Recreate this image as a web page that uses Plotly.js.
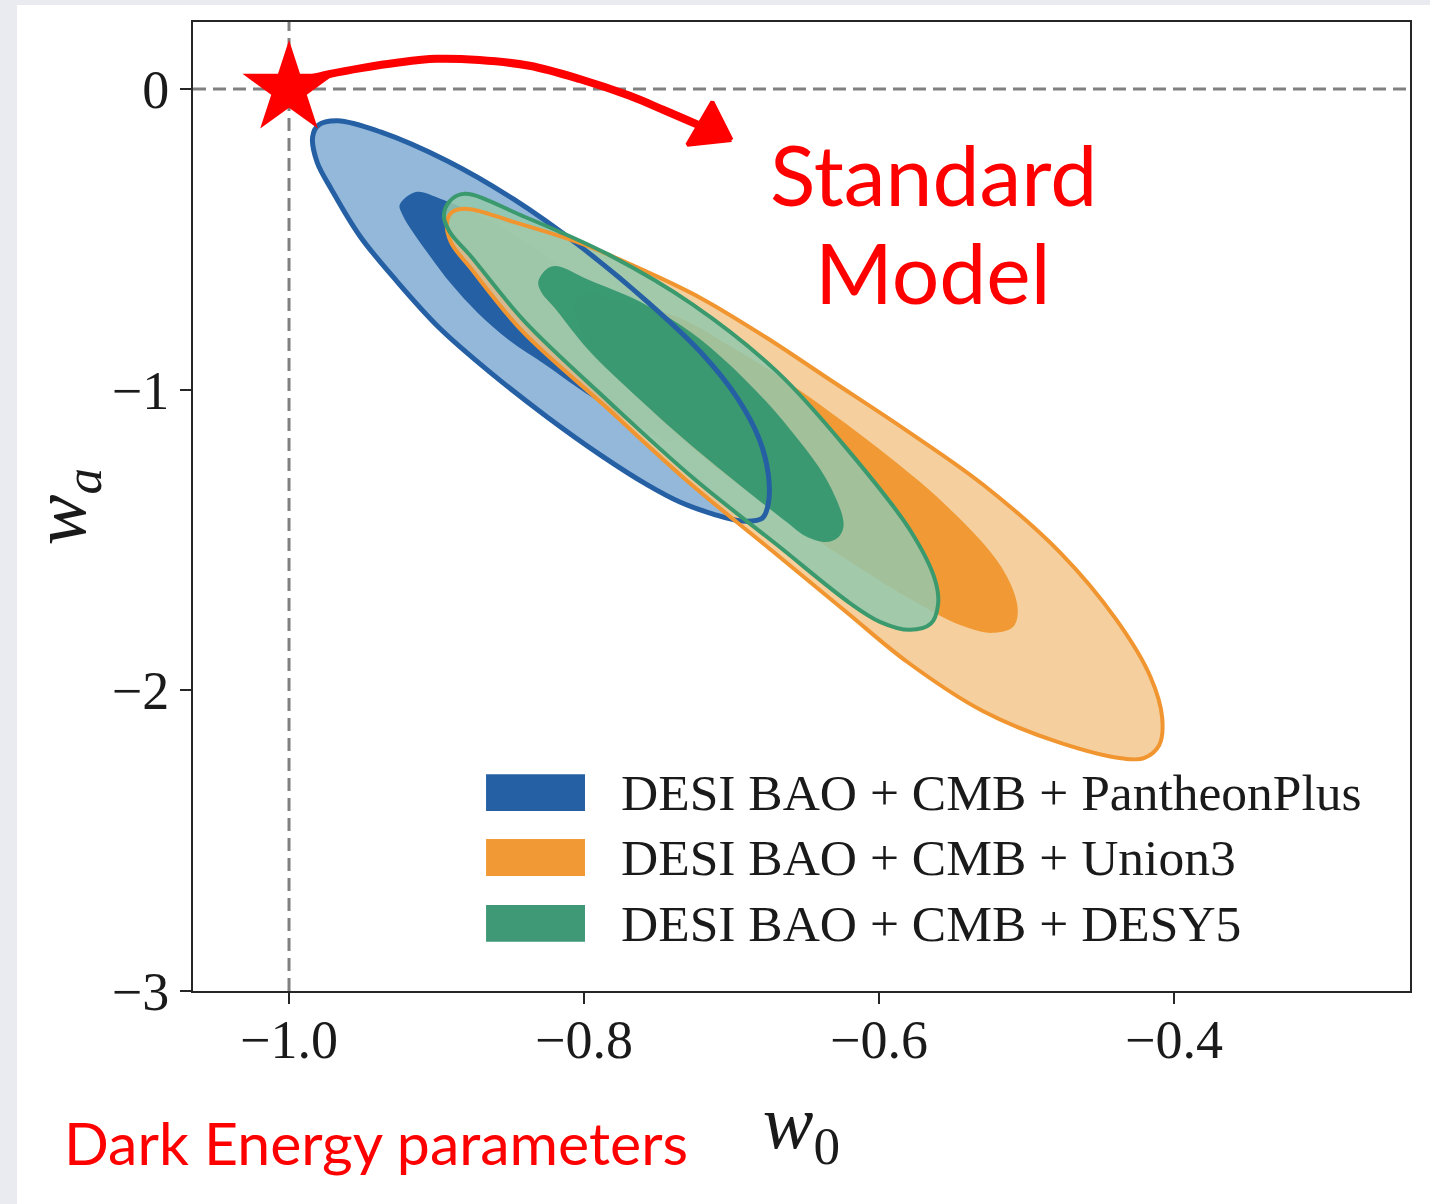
<!DOCTYPE html>
<html><head><meta charset="utf-8">
<script src="https://cdn.plot.ly/plotly-3.0.1.min.js"></script>
<style>
html,body{margin:0;padding:0;background:#e9ebf0;width:1430px;height:1204px;overflow:hidden;}
#chart{position:absolute;left:17px;top:5px;width:1413px;height:1199px;background:#fff;}
</style></head><body><div id="chart"></div>
<script>
// ---- DATA ----
// DESI BAO + CMB + PantheonPlus, 95% and 68% contour boundaries (w0, wa)
const pantheon95W0 = [-0.984,-0.980,-0.967,-0.938,-0.893,-0.848,-0.803,-0.757,-0.721,-0.696,-0.681,-0.675,-0.675,-0.679,-0.693,-0.713,-0.735,-0.757,-0.789,-0.825,-0.864,-0.898,-0.927,-0.952,-0.971,-0.981];
const pantheon95Wa = [-0.160,-0.120,-0.106,-0.143,-0.239,-0.366,-0.522,-0.708,-0.875,-1.028,-1.167,-1.284,-1.377,-1.427,-1.437,-1.413,-1.374,-1.317,-1.217,-1.091,-0.941,-0.795,-0.639,-0.489,-0.336,-0.243];
const pantheon68W0 = [-0.925,-0.914,-0.897,-0.869,-0.841,-0.813,-0.784,-0.762,-0.746,-0.737,-0.734,-0.734,-0.736,-0.744,-0.757,-0.771,-0.784,-0.804,-0.826,-0.851,-0.872,-0.890,-0.905,-0.917,-0.923];
const pantheon68Wa = [-0.386,-0.343,-0.366,-0.426,-0.506,-0.602,-0.718,-0.821,-0.915,-1.001,-1.074,-1.131,-1.164,-1.171,-1.134,-1.104,-1.061,-0.995,-0.918,-0.835,-0.745,-0.649,-0.552,-0.469,-0.419];
// DESI BAO + CMB + Union3
const union95W0 = [-0.893,-0.890,-0.879,-0.848,-0.803,-0.757,-0.721,-0.677,-0.633,-0.581,-0.530,-0.477,-0.439,-0.416,-0.408,-0.410,-0.420,-0.433,-0.477,-0.530,-0.581,-0.623,-0.674,-0.730,-0.786,-0.842,-0.877,-0.890];
const union95Wa = [-0.449,-0.412,-0.399,-0.442,-0.512,-0.609,-0.695,-0.825,-0.968,-1.137,-1.314,-1.543,-1.766,-1.955,-2.092,-2.182,-2.225,-2.228,-2.175,-2.068,-1.905,-1.736,-1.530,-1.304,-1.054,-0.805,-0.595,-0.512];
const union68W0 = [-0.806,-0.796,-0.780,-0.735,-0.701,-0.664,-0.608,-0.555,-0.517,-0.506,-0.509,-0.523,-0.545,-0.578,-0.613,-0.648,-0.705,-0.757,-0.796,-0.805];
const union68Wa = [-0.708,-0.682,-0.698,-0.762,-0.855,-0.968,-1.167,-1.383,-1.590,-1.726,-1.789,-1.809,-1.783,-1.699,-1.593,-1.480,-1.280,-1.058,-0.858,-0.762];
// DESI BAO + CMB + DESY5
const desy95W0 = [-0.895,-0.891,-0.881,-0.840,-0.783,-0.726,-0.669,-0.620,-0.579,-0.562,-0.560,-0.565,-0.579,-0.599,-0.620,-0.669,-0.726,-0.783,-0.840,-0.877,-0.891];
const desy95Wa = [-0.422,-0.373,-0.349,-0.426,-0.552,-0.718,-0.941,-1.207,-1.467,-1.633,-1.716,-1.779,-1.799,-1.773,-1.709,-1.517,-1.294,-1.041,-0.775,-0.555,-0.476];
const desy68W0 = [-0.831,-0.826,-0.819,-0.797,-0.762,-0.727,-0.692,-0.660,-0.635,-0.624,-0.628,-0.636,-0.650,-0.662,-0.692,-0.727,-0.762,-0.797,-0.820,-0.829];
const desy68Wa = [-0.642,-0.602,-0.589,-0.635,-0.708,-0.811,-0.961,-1.134,-1.304,-1.450,-1.493,-1.507,-1.487,-1.443,-1.327,-1.187,-1.034,-0.868,-0.728,-0.675];
// Standard model point (LCDM) and the hand-drawn arrow
const lcdmW0 = -1.0;
const lcdmWa = 0.0;
const arrowW0 = [-0.989,-0.972,-0.950,-0.927,-0.900,-0.871,-0.837,-0.803,-0.769,-0.746,-0.721];
const arrowWa = [0.030,0.050,0.070,0.087,0.100,0.096,0.077,0.033,-0.023,-0.070,-0.123];
const arrowHeadW0 = [-0.700,-0.713,-0.730];
const arrowHeadWa = [-0.170,-0.043,-0.186];
// ticks and labels
const xTicks = [-1.0,-0.8,-0.6,-0.4];
const yTicks = [0,-1,-2,-3];
const legendLabels = ['DESI BAO + CMB + PantheonPlus','DESI BAO + CMB + Union3','DESI BAO + CMB + DESY5'];
const noteText = ['Standard','Model'];
const captionText = 'Dark Energy parameters';

// ---- STYLE ----
const C = {
  blueLight:'#93b8d9', blueDark:'#2660a4', blueLine:'#2660a4',
  orangeLight:'rgba(243,200,141,0.85)', orangeDark:'rgba(240,144,34,0.85)', orangeLine:'#f0952f',
  greenLight:'rgba(148,200,173,0.85)', greenDark:'rgba(40,146,104,0.85)', greenLine:'#3a9a6e',
  legend:['#2660a4','#f19a35','#3f9977']
};
function closed(a){ return a.concat([a[0]]); }
function fillTrace(x,y,color){
  return {type:'scatter',mode:'lines',x:closed(x),y:closed(y),fill:'toself',fillcolor:color,
          line:{width:0,shape:'spline',smoothing:1},hoverinfo:'skip',showlegend:false};
}
function lineTrace(x,y,color,w){
  return {type:'scatter',mode:'lines',x:closed(x),y:closed(y),fill:'none',
          line:{color:color,width:w,shape:'spline',smoothing:1},hoverinfo:'skip',showlegend:false};
}
const traces = [
  fillTrace(pantheon95W0,pantheon95Wa,C.blueLight),
  fillTrace(pantheon68W0,pantheon68Wa,C.blueDark),
  fillTrace(union95W0,union95Wa,C.orangeLight),
  fillTrace(union68W0,union68Wa,C.orangeDark),
  fillTrace(desy95W0,desy95Wa,C.greenLight),
  fillTrace(desy68W0,desy68Wa,C.greenDark),
  lineTrace(pantheon95W0,pantheon95Wa,C.blueLine,5),
  lineTrace(union95W0,union95Wa,C.orangeLine,4),
  lineTrace(desy95W0,desy95Wa,C.greenLine,4),
  {type:'scatter',mode:'lines',x:arrowW0,y:arrowWa,line:{color:'#ff0000',width:8,shape:'spline',smoothing:1},hoverinfo:'skip',showlegend:false},
  {type:'scatter',mode:'lines',x:closed(arrowHeadW0),y:closed(arrowHeadWa),fill:'toself',fillcolor:'#ff0000',line:{color:'#ff0000',width:4},hoverinfo:'skip',showlegend:false},
  {type:'scatter',mode:'markers',x:[lcdmW0],y:[lcdmWa],marker:{symbol:'star',size:70,color:'#ff0000',line:{width:0}},hoverinfo:'skip',showlegend:false,cliponaxis:false}
];

const serif = 'Liberation Serif, Times New Roman, serif';
const sans = 'Lato, Noto Sans, sans-serif';
const axisCommon = {showgrid:false,zeroline:false,showline:true,mirror:true,linecolor:'#262626',linewidth:2,
  ticks:'outside',ticklen:11,tickwidth:2,tickcolor:'#262626',tickfont:{family:serif,size:54,color:'#1a1a1a'},fixedrange:true};

const shapes = [
  {type:'line',xref:'x',yref:'paper',x0:lcdmW0,x1:lcdmW0,y0:0,y1:1,line:{color:'#808080',width:3,dash:'13px,7px'},layer:'below'},
  {type:'line',xref:'paper',yref:'y',x0:0,x1:1,y0:lcdmWa,y1:lcdmWa,line:{color:'#808080',width:3,dash:'13px,7px'},layer:'below'}
];
const annotations = [];
// legend (drawn manually to get the large swatches)
const legY = [0.2048,0.1378,0.0697];
const legH = 0.038;
legendLabels.forEach(function(t,i){
  shapes.push({type:'rect',xref:'paper',yref:'paper',x0:0.2408,x1:0.3221,y0:legY[i]-legH/2,y1:legY[i]+legH/2,fillcolor:C.legend[i],line:{width:0}});
  annotations.push({xref:'paper',yref:'paper',x:0.3500,y:legY[i],xanchor:'left',yanchor:'middle',showarrow:false,text:t,font:{family:serif,size:51.5,color:'#1a1a1a'}});
});
annotations.push({xref:'paper',yref:'paper',x:0.6081,y:0.8432,xanchor:'center',yanchor:'middle',showarrow:false,text:noteText[0],font:{family:sans,size:84,color:'#ff0000'}});
annotations.push({xref:'paper',yref:'paper',x:0.6080,y:0.7430,xanchor:'center',yanchor:'middle',showarrow:false,text:noteText[1],font:{family:sans,size:84,color:'#ff0000'}});
annotations.push({xref:'paper',yref:'paper',x:-0.1076,y:-0.1560,xanchor:'left',yanchor:'middle',showarrow:false,text:captionText,font:{family:sans,size:59,color:'#ff0000'}});

const layout = {
  width:1413,height:1199,margin:{l:176,r:20,t:17,b:213},
  paper_bgcolor:'#ffffff',plot_bgcolor:'#ffffff',showlegend:false,
  xaxis:Object.assign({},axisCommon,{range:[-1.0651,-0.2400],tickvals:xTicks,tickformat:'.1f',ticklabelstandoff:-11,
    title:{text:'<i>w</i><sub>0</sub>',font:{family:serif,size:76,color:'#1a1a1a'},standoff:26}}),
  yaxis:Object.assign({},axisCommon,{range:[-3.0,0.2225],tickvals:yTicks,tickformat:'d',
    title:{text:'<i>w</i><sub><i>a</i></sub>',font:{family:serif,size:76,color:'#1a1a1a'},standoff:12}}),
  shapes:shapes,annotations:annotations
};
Plotly.newPlot('chart',traces,layout,{displayModeBar:false,staticPlot:true});
</script></body></html>
